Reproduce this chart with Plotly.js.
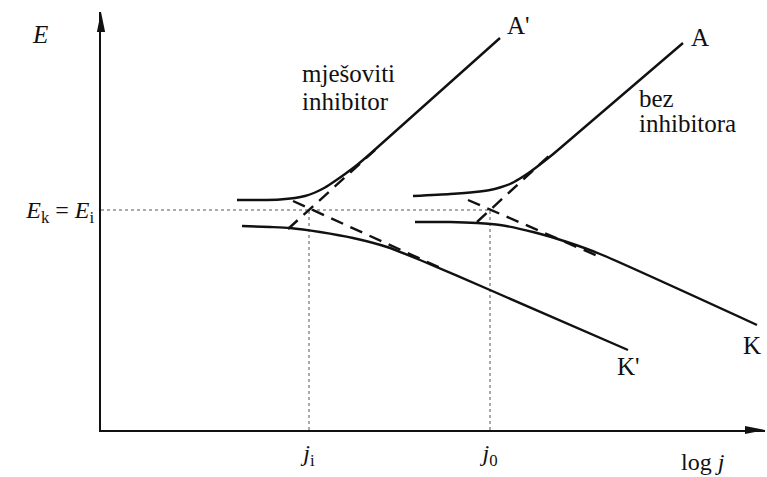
<!DOCTYPE html>
<html>
<head>
<meta charset="utf-8">
<script src="https://cdn.plot.ly/plotly-3.0.1.min.js"></script>
<style>html,body{margin:0;padding:0;background:#fff;}#chart{width:767px;height:477px;}</style>
</head>
<body>
<div id="chart"></div>
<script>
// Schematic values (x = log j, y = E, arbitrary units)
const E_corr = 22.0;      // E_k = E_i
const j_i = 20.8;         // log j_i
const j_0 = 38.9;         // log j_0

// Mixed inhibitor: anodic curve A'
const aPrimeX = [13.6, 15.9, 17.9, 19.4, 20.4, 21.4, 22.4, 23.4, 24.4, 25.6, 26.9, 39.9];
const aPrimeY = [23.0, 23.0, 23.05, 23.2, 23.4, 23.75, 24.25, 24.9, 25.6, 26.5, 27.6, 39.2];
// Mixed inhibitor: cathodic curve K'
const kPrimeX = [14.1, 16.9, 18.9, 21.9, 25.2, 28.6, 31.9, 38.9, 52.7];
const kPrimeY = [20.4, 20.3, 20.2, 19.8, 19.2, 18.3, 17.0, 14.0, 8.0];
// Mixed inhibitor: Tafel extrapolations (dashed)
const aPrimeTafelX = [18.7, 27.4];
const aPrimeTafelY = [20.1, 28.0];
const kPrimeTafelX = [19.2, 34.4];
const kPrimeTafelY = [22.9, 16.0];

// No inhibitor: anodic curve A
const aX = [31.2, 34.9, 37.4, 38.9, 39.9, 40.9, 41.9, 42.9, 43.9, 45.1, 46.4, 58.2];
const aY = [23.4, 23.6, 23.8, 24.0, 24.25, 24.6, 25.15, 25.8, 26.55, 27.5, 28.6, 38.7];
// No inhibitor: cathodic curve K
const kX = [31.4, 34.9, 37.6, 39.9, 43.2, 46.6, 49.9, 65.6];
const kY = [20.8, 20.8, 20.7, 20.5, 19.8, 18.8, 17.6, 10.5];
// No inhibitor: Tafel extrapolations (dashed)
const aTafelX = [37.6, 45.1];
const aTafelY = [20.8, 27.7];
const kTafelX = [36.7, 49.9];
const kTafelY = [23.0, 17.3];

const tickValsX = [j_i, j_0];
const tickTextX = ['<i>j</i><sub>i</sub>', '<i>j</i><sub>0</sub>'];
const tickValsY = [E_corr];
const tickTextY = ['<i>E</i><sub>k</sub> = <i>E</i><sub>i</sub>'];

const FONT = 'Liberation Serif, serif';
const INK = '#111';

function solid(x, y) {
  return {x: x, y: y, mode: 'lines', line: {color: INK, width: 2.4, shape: 'spline', smoothing: 0.6}, hoverinfo: 'skip'};
}
function dashed(x, y) {
  return {x: x, y: y, mode: 'lines', line: {color: INK, width: 2.4, dash: '13px,8px'}, hoverinfo: 'skip'};
}
function dotted(x, y) {
  return {x: x, y: y, mode: 'lines', line: {color: '#555', width: 1, dash: 'dot'}, hoverinfo: 'skip'};
}

const traces = [
  dotted([0, j_0], [E_corr, E_corr]),
  dotted([j_i, j_i], [0, E_corr]),
  dotted([j_0, j_0], [0, E_corr]),
  solid(aPrimeX, aPrimeY),
  solid(kPrimeX, kPrimeY),
  dashed(aPrimeTafelX, aPrimeTafelY),
  dashed(kPrimeTafelX, kPrimeTafelY),
  solid(aX, aY),
  solid(kX, kY),
  dashed(aTafelX, aTafelY),
  dashed(kTafelX, kTafelY)
];

function label(text, x, y, xanchor, ref, size) {
  return {text: text, x: x, y: y, xref: ref || 'x', yref: ref || 'y', showarrow: false,
          xanchor: xanchor || 'center', yanchor: 'middle',
          font: {family: FONT, size: size || 25, color: INK}};
}

const annotations = [
  label('<i>E</i>', -0.092, 0.945, 'center', 'paper'),
  label('log <i>j</i>', 0.907, -0.076, 'center', 'paper', 24),
  label("A'", 41.7, 40.5),
  label('A', 59.9, 39.3),
  label("K'", 52.7, 6.4),
  label('K', 65.1, 8.5),
  label('mješoviti', 19.9, 35.7, 'left'),
  label('inhibitor', 19.9, 32.9, 'left'),
  label('bez', 53.6, 33.2, 'left'),
  label('inhibitora', 53.6, 30.7, 'left')
];

const shapes = [
  {type: 'path', xref: 'paper', yref: 'paper', path: 'M 0,1 L -0.0062,0.952 L 0.0062,0.952 Z', fillcolor: INK, line: {width: 0}},
  {type: 'path', xref: 'paper', yref: 'paper', path: 'M 1,0 L 0.9699,0.0096 L 0.9699,-0.0096 Z', fillcolor: INK, line: {width: 0}}
];

const layout = {
  width: 767, height: 477,
  margin: {l: 101, r: 2, t: 12, b: 47, pad: 0},
  paper_bgcolor: '#fff', plot_bgcolor: '#fff',
  font: {family: FONT, color: INK},
  showlegend: false, hovermode: false,
  xaxis: {range: [0, 66.4], showline: true, linewidth: 2, linecolor: INK, showgrid: false, zeroline: false,
          ticks: '', tickvals: tickValsX, ticktext: tickTextX, tickfont: {family: FONT, size: 24, color: INK}, fixedrange: true},
  yaxis: {range: [0, 41.8], showline: true, linewidth: 2, linecolor: INK, showgrid: false, zeroline: false,
          ticks: '', tickvals: tickValsY, ticktext: tickTextY, tickfont: {family: FONT, size: 24, color: INK}, fixedrange: true},
  annotations: annotations,
  shapes: shapes
};

Plotly.newPlot('chart', traces, layout, {staticPlot: true, displayModeBar: false});
</script>
</body>
</html>
